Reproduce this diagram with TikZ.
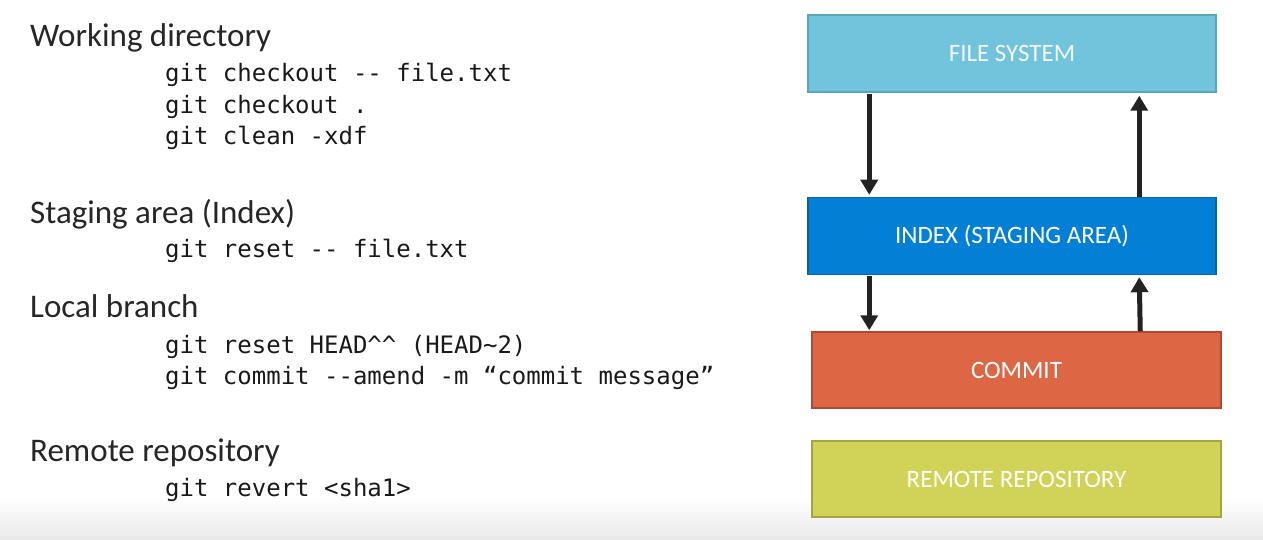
\documentclass[tikz,border=0pt]{standalone}
\usepackage{fontspec}
\setmainfont{Carlito}
\setmonofont{DejaVu Sans Mono}
\usepackage{xcolor}
\usepackage{tikz}
\usetikzlibrary{calc,arrows.meta}

\definecolor{fsfill}{HTML}{72C4DC}
\definecolor{fsline}{HTML}{5BA4BA}
\definecolor{idxfill}{HTML}{0380D6}
\definecolor{idxline}{HTML}{0366AD}
\definecolor{cmfill}{HTML}{DD6645}
\definecolor{cmline}{HTML}{B04A32}
\definecolor{rmfill}{HTML}{D1D359}
\definecolor{rmline}{HTML}{A3A541}
\definecolor{arrowgray}{HTML}{222222}
\definecolor{textgray}{HTML}{262626}

\begin{document}
\begin{tikzpicture}[x=1pt,y=-1pt,
    area/.style={draw,line width=1.5pt,minimum width=408pt,minimum height=77pt,
      inner sep=0pt,text=white,font=\fontsize{25}{30}\selectfont},
    heading/.style={anchor=base west,inner sep=0pt,text=textgray,
      font=\fontsize{33}{40}\selectfont},
    cmd/.style={anchor=base west,inner sep=0pt,text=black!90,
      font=\ttfamily\fontsize{24}{29}\selectfont},
    flow/.style={line width=5pt,arrowgray,-{Triangle[width=17pt,length=15pt]}}]
  \useasboundingbox (0,0) rectangle (1263,540);

  % Light band at the bottom of the slide
  \shade[top color=white,bottom color=black!9] (0,497) rectangle (1263,540);

  % Define points for the boxes
  \coordinate (FS) at (1012,53.5);  % File system
  \coordinate (IX) at (1012,236);   % Index
  \coordinate (CM) at (1016.5,370); % Commit
  \coordinate (RM) at (1016.5,479); % Remote

  % Draw the boxes
  \node[area,fill=fsfill,draw=fsline,text=white!96!black] (fs) at (FS) {FILE SYSTEM};
  \node[area,fill=idxfill,draw=idxline] (idx) at (IX) {INDEX (STAGING AREA)};
  \node[area,fill=cmfill,draw=cmline,minimum width=409pt,minimum height=76pt] (cm) at (CM) {COMMIT};
  \node[area,fill=rmfill,draw=rmline,minimum width=409pt,minimum height=76pt] (rm) at (RM) {REMOTE REPOSITORY};

  % Draw arrows between the boxes
  \draw[flow] ([xshift=62pt,yshift=-1pt]fs.south west) -- ([xshift=62pt,yshift=2pt]idx.north west);
  \draw[flow] ([xshift=332pt]idx.north west) -- ([xshift=332pt,yshift=-3pt]fs.south west);
  \draw[flow] ([xshift=62pt,yshift=-1pt]idx.south west) -- ([xshift=58pt,yshift=1pt]cm.north west);
  \draw[flow] ([xshift=329pt]cm.north west) -- ([xshift=332pt,yshift=-2pt]idx.south west);

  % Label the areas and their commands
  \node[heading] (wd) at (30,47) {Working directory};
  \node[cmd] (wd1) at (165,82) {git checkout -{}- file.txt};
  \node[cmd] (wd2) at (165,113.5) {git checkout .};
  \node[cmd] (wd3) at (165,145) {git clean -xdf};

  \node[heading] (sa) at (30,223) {Staging area (Index)};
  \node[cmd] (sa1) at (165,257) {git reset -{}- file.txt};

  \node[heading] (lb) at (30,317) {Local branch};
  \node[cmd] (lb1) at (165,353) {git reset HEAD\textasciicircum\textasciicircum\ (HEAD\textasciitilde 2)};
  \node[cmd] (lb2) at (165,384.5) {git commit -{}-amend -m “commit message”};

  \node[heading] (rr) at (30,461) {Remote repository};
  \node[cmd] (rr1) at (165,496) {git revert <sha1>};

\end{tikzpicture}
\end{document}
